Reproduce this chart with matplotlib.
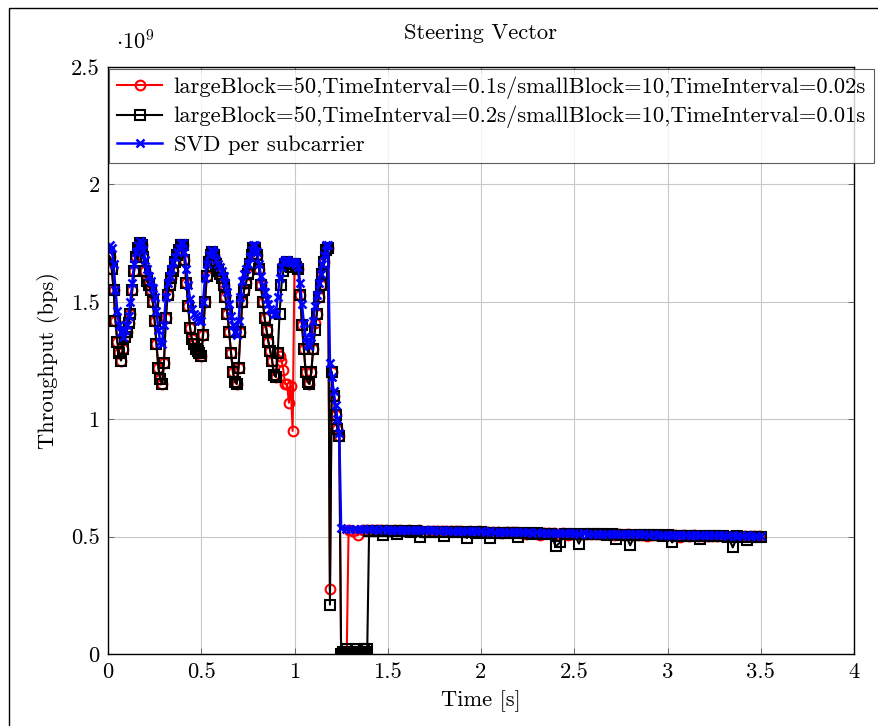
import numpy as np
import matplotlib
matplotlib.use("Agg")
import matplotlib.pyplot as plt
from matplotlib.patches import Rectangle

plt.rcParams['font.family'] = ['cmr10', 'DejaVu Serif']
plt.rcParams['mathtext.fontset'] = 'cm'
plt.rcParams['axes.formatter.use_mathtext'] = True

FS = 16.2

# ---------------- data (throughput in units of 1e9 bps) ----------------
# dense part: t = 0.00 ... 1.24 s, step 0.01 s
t_dense = np.round(np.arange(0, 125) * 0.01, 2)

black_dense = [
    1.70, 1.69, 1.64, 1.55, 1.42, 1.33, 1.28, 1.25, 1.30, 1.35,
    1.37, 1.41, 1.45, 1.55, 1.63, 1.69, 1.73, 1.75, 1.74, 1.69,
    1.63, 1.59, 1.57, 1.55, 1.50, 1.42, 1.32, 1.22, 1.17, 1.15,
    1.24, 1.43, 1.53, 1.57, 1.60, 1.63, 1.67, 1.70, 1.72, 1.74,
    1.74, 1.68, 1.58, 1.48, 1.39, 1.34, 1.32, 1.30, 1.29, 1.28,
    1.27, 1.36, 1.50, 1.61, 1.67, 1.70, 1.71, 1.70, 1.66, 1.63,
    1.62, 1.60, 1.57, 1.52, 1.45, 1.37, 1.28, 1.20, 1.16, 1.15,
    1.22, 1.37, 1.50, 1.55, 1.58, 1.62, 1.66, 1.70, 1.73, 1.73,
    1.70, 1.64, 1.57, 1.50, 1.43, 1.38, 1.33, 1.29, 1.25, 1.19,
    1.18, 1.28, 1.45, 1.57, 1.63, 1.66, 1.67, 1.66, 1.65, 1.66,
    1.66, 1.65, 1.64, 1.53, 1.40, 1.30, 1.20, 1.16, 1.15, 1.20,
    1.30, 1.38, 1.45, 1.52, 1.57, 1.62, 1.67, 1.72, 1.73, 0.21,
    1.20, 1.10, 1.02, 0.96, 0.93,
]

red_dense = [
    1.70, 1.69, 1.64, 1.55, 1.42, 1.33, 1.28, 1.25, 1.30, 1.35,
    1.37, 1.41, 1.45, 1.55, 1.63, 1.69, 1.73, 1.75, 1.74, 1.69,
    1.63, 1.59, 1.57, 1.55, 1.50, 1.42, 1.32, 1.22, 1.17, 1.15,
    1.24, 1.43, 1.53, 1.57, 1.60, 1.63, 1.67, 1.70, 1.72, 1.74,
    1.74, 1.68, 1.58, 1.48, 1.39, 1.34, 1.32, 1.30, 1.29, 1.28,
    1.27, 1.36, 1.50, 1.61, 1.67, 1.70, 1.71, 1.70, 1.66, 1.63,
    1.62, 1.60, 1.57, 1.52, 1.45, 1.37, 1.28, 1.20, 1.16, 1.15,
    1.22, 1.37, 1.50, 1.55, 1.58, 1.62, 1.66, 1.70, 1.73, 1.73,
    1.70, 1.64, 1.57, 1.50, 1.43, 1.38, 1.33, 1.29, 1.25, 1.19,
    1.18, 1.28, 1.27, 1.25, 1.21, 1.15, 1.15, 1.07, 1.14, 0.95,
    1.66, 1.65, 1.64, 1.53, 1.40, 1.30, 1.20, 1.16, 1.15, 1.20,
    1.30, 1.41, 1.45, 1.52, 1.57, 1.62, 1.67, 1.72, 1.73, 0.275,
    1.20, 1.10, 1.02, 0.96, 0.93,
]

blue_dense = [
    1.72, 1.74, 1.73, 1.66, 1.55, 1.46, 1.40, 1.37, 1.35, 1.38,
    1.40, 1.44, 1.50, 1.58, 1.66, 1.71, 1.74, 1.76, 1.75, 1.72,
    1.68, 1.64, 1.61, 1.59, 1.56, 1.52, 1.46, 1.38, 1.33, 1.32,
    1.40, 1.52, 1.58, 1.61, 1.64, 1.67, 1.69, 1.71, 1.73, 1.75,
    1.75, 1.71, 1.64, 1.57, 1.51, 1.47, 1.45, 1.44, 1.43, 1.42,
    1.42, 1.50, 1.60, 1.66, 1.70, 1.72, 1.72, 1.71, 1.68, 1.66,
    1.65, 1.63, 1.61, 1.58, 1.54, 1.49, 1.44, 1.40, 1.37, 1.36,
    1.42, 1.52, 1.59, 1.62, 1.64, 1.66, 1.69, 1.72, 1.74, 1.74,
    1.71, 1.66, 1.61, 1.57, 1.54, 1.51, 1.49, 1.47, 1.46, 1.45,
    1.45, 1.52, 1.60, 1.65, 1.67, 1.68, 1.68, 1.67, 1.67, 1.67,
    1.67, 1.66, 1.65, 1.58, 1.49, 1.41, 1.35, 1.32, 1.31, 1.35,
    1.42, 1.48, 1.53, 1.58, 1.62, 1.66, 1.70, 1.74, 1.74, 1.24,
    1.18, 1.12, 1.06, 1.00, 0.94,
]

# outage part (step 0.01 s)
t_black_zero = np.round(1.25 + np.arange(0, 15) * 0.01, 2)
black_zero = [0.00, 0.01, 0.00, 0.02, 0.01, 0.00, 0.01, 0.00, 0.02, 0.01,
              0.00, 0.01, 0.02, 0.01, 0.02]
t_red_zero = np.round(1.25 + np.arange(0, 4) * 0.01, 2)
red_zero = [0.00, 0.00, 0.01, 0.00]

# steady part (step 0.025 s)
t_blue_flat = np.round(1.25 + np.arange(0, 91) * 0.025, 3)
blue_flat = [
    0.536, 0.534, 0.533, 0.534, 0.532, 0.533, 0.531, 0.532, 0.530, 0.531,
    0.530, 0.529, 0.530, 0.528, 0.529, 0.527, 0.528, 0.527, 0.526, 0.527,
    0.526, 0.525, 0.526, 0.524, 0.525, 0.524, 0.523, 0.524, 0.522, 0.523,
    0.522, 0.521, 0.522, 0.520, 0.521, 0.520, 0.519, 0.520, 0.518, 0.519,
    0.518, 0.517, 0.518, 0.516, 0.517, 0.516, 0.515, 0.516, 0.514, 0.515,
    0.514, 0.513, 0.514, 0.512, 0.513, 0.512, 0.511, 0.512, 0.511, 0.511,
    0.510, 0.511, 0.510, 0.509, 0.510, 0.509, 0.508, 0.509, 0.508, 0.508,
    0.508, 0.507, 0.508, 0.507, 0.506, 0.507, 0.506, 0.506, 0.505, 0.506,
    0.505, 0.506, 0.505, 0.504, 0.505, 0.504, 0.504, 0.505, 0.503, 0.504,
    0.504,
]

t_red_flat = np.round(1.29 + np.arange(0, 89) * 0.025, 3)
red_flat = [
    0.530, 0.525, 0.505, 0.528, 0.527, 0.529, 0.526, 0.528, 0.527, 0.522,
    0.527, 0.526, 0.524, 0.527, 0.525, 0.526, 0.520, 0.525, 0.524, 0.525,
    0.523, 0.524, 0.522, 0.524, 0.523, 0.518, 0.522, 0.521, 0.522, 0.520,
    0.521, 0.519, 0.520, 0.516, 0.519, 0.518, 0.519, 0.517, 0.513, 0.517,
    0.516, 0.508, 0.515, 0.514, 0.515, 0.513, 0.514, 0.506, 0.513, 0.512,
    0.512, 0.511, 0.512, 0.510, 0.511, 0.509, 0.510, 0.505, 0.509, 0.508,
    0.509, 0.507, 0.508, 0.507, 0.503, 0.507, 0.506, 0.507, 0.505, 0.506,
    0.505, 0.500, 0.505, 0.504, 0.505, 0.503, 0.504, 0.503, 0.504, 0.502,
    0.503, 0.502, 0.503, 0.501, 0.502, 0.501, 0.502, 0.501, 0.502,
]

t_black_flat = np.round(1.40 + np.arange(0, 85) * 0.025, 3)
black_flat = [
    0.525, 0.524, 0.522, 0.505, 0.524, 0.523, 0.510, 0.523, 0.522, 0.521,
    0.522, 0.498, 0.521, 0.520, 0.521, 0.519, 0.503, 0.520, 0.519, 0.518,
    0.519, 0.494, 0.518, 0.517, 0.518, 0.516, 0.496, 0.517, 0.516, 0.515,
    0.516, 0.514, 0.500, 0.515, 0.514, 0.513, 0.514, 0.512, 0.513, 0.512,
    0.458, 0.476, 0.512, 0.511, 0.512, 0.470, 0.511, 0.510, 0.509, 0.510,
    0.509, 0.508, 0.509, 0.490, 0.508, 0.507, 0.463, 0.507, 0.506, 0.507,
    0.505, 0.506, 0.505, 0.504, 0.505, 0.475, 0.504, 0.503, 0.504, 0.503,
    0.502, 0.490, 0.503, 0.502, 0.501, 0.502, 0.501, 0.500, 0.454, 0.501,
    0.500, 0.485, 0.500, 0.499, 0.500,
]

labels = [
    "largeBlock=50,TimeInterval=0.1s/smallBlock=10,TimeInterval=0.02s",
    "largeBlock=50,TimeInterval=0.2s/smallBlock=10,TimeInterval=0.01s",
    "SVD per subcarrier",
]

t_red = np.concatenate([t_dense, t_red_zero, t_red_flat])
v_red = np.concatenate([red_dense, red_zero, red_flat])
t_black = np.concatenate([t_dense, t_black_zero, t_black_flat])
v_black = np.concatenate([black_dense, black_zero, black_flat])
t_blue = np.concatenate([t_dense, t_blue_flat])
v_blue = np.concatenate([blue_dense, blue_flat])

# ---------------- figure ----------------
fig = plt.figure(figsize=(8.79, 7.26), dpi=100)
ax = fig.add_axes([108 / 879, 1 - 654 / 726, (854 - 108) / 879, (654 - 67) / 726])

ax.plot(t_red, v_red, color='red', lw=1.5, marker='o', ms=7.0,
        mfc='none', mew=1.5, label=labels[0])
ax.plot(t_black, v_black, color='black', lw=1.5, marker='s', ms=6.8,
        mfc='none', mew=1.5, label=labels[1])
ax.plot(t_blue, v_blue, color='blue', lw=1.8, marker='x', ms=5.5,
        mew=1.8, label=labels[2])

ax.set_xlim(0, 4)
ax.set_ylim(0, 2.5)
ax.set_xticks(np.arange(0, 4.01, 0.5))
ax.set_yticks(np.arange(0, 2.51, 0.5))
ax.set_xticklabels(['0', '0.5', '1', '1.5', '2', '2.5', '3', '3.5', '4'])
ax.set_yticklabels(['0', '0.5', '1', '1.5', '2', '2.5'])
ax.grid(True, color='#c8c8c8', lw=0.8)
ax.set_axisbelow(True)
ax.tick_params(direction='in', top=True, right=True, labelsize=FS,
               length=4, width=0.6, color='#555555', pad=6)
for s in ax.spines.values():
    s.set_linewidth(1.0)

ax.text(0.5, 1 + 34 / 587, "Steering Vector", transform=ax.transAxes,
        fontsize=FS, ha='center', va='center')
ax.set_xlabel("Time [s]", fontsize=FS, labelpad=6)
ax.set_ylabel("Throughput (bps)", fontsize=FS, labelpad=8)
ax.text(8 / 746, 1 + 26 / 587, r"$\cdot 10^9$", transform=ax.transAxes,
        fontsize=FS, ha='left', va='center')

leg = ax.legend(loc='upper left', bbox_to_anchor=(0.002, 0.997), fontsize=FS,
                frameon=True, fancybox=False, edgecolor='#333333',
                borderaxespad=0.0, handlelength=2.0, handletextpad=0.5,
                labelspacing=0.3, borderpad=0.35)
leg.get_frame().set_linewidth(0.8)
leg.set_zorder(10)

# outer frame
fig.patches.append(Rectangle((9 / 879, -0.1), 1.2, 1 - 8 / 726 + 0.1,
                             transform=fig.transFigure, fill=False,
                             edgecolor='black', lw=1.0))

fig.savefig("out.png", dpi=100)
